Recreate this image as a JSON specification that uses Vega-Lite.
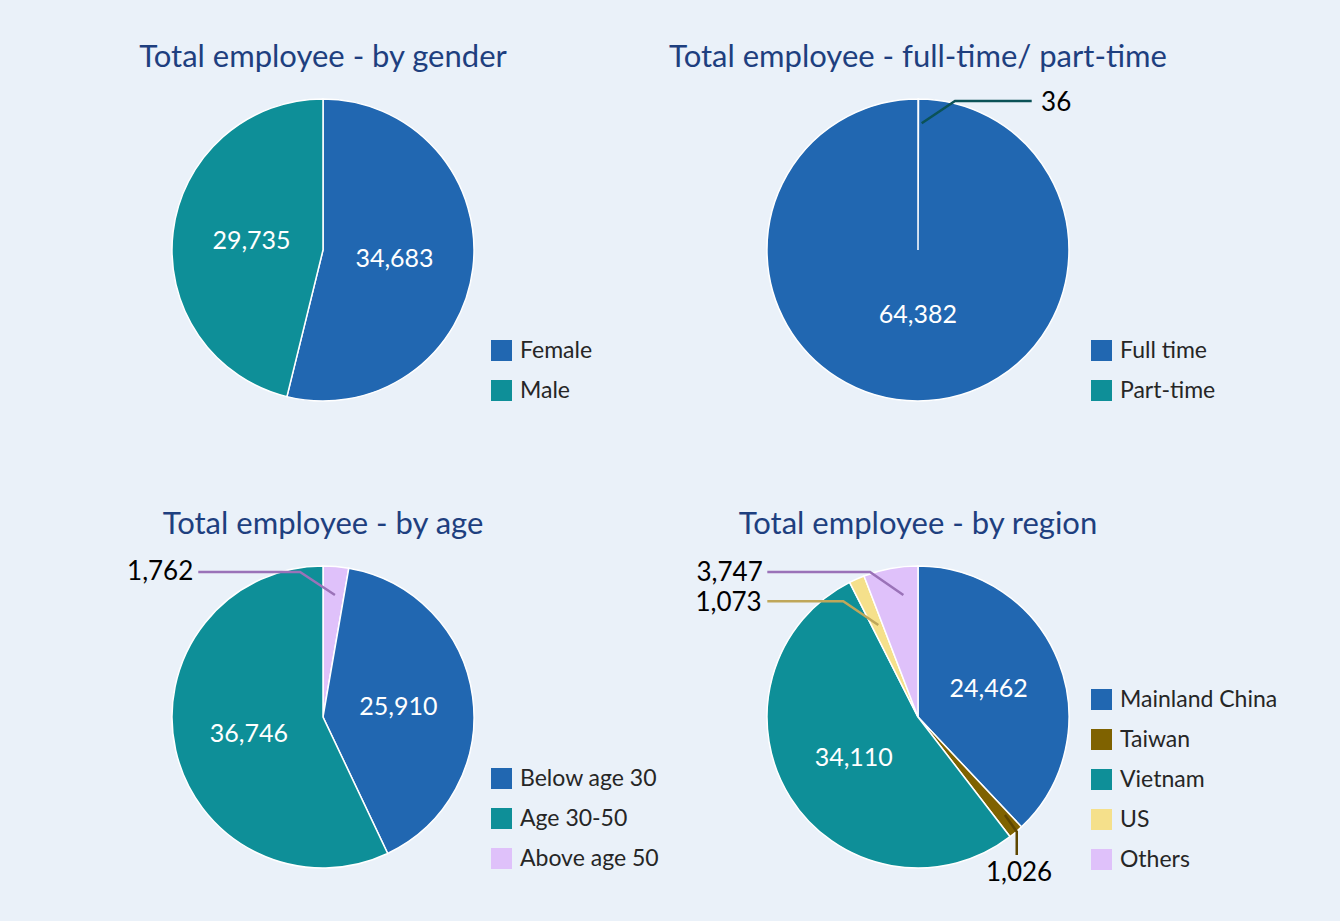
{
  "$schema": "https://vega.github.io/schema/vega-lite/v6.json",
  "background": "#eaf1f9",
  "padding": {"left": 93, "top": 42, "right": 62, "bottom": 26},
  "columns": 2,
  "spacing": {"row": 107, "column": 135},
  "bounds": "flush",
  "resolve": {"scale": {"color": "independent", "theta": "independent", "x": "independent", "y": "independent", "stroke": "independent"}},
  "config": {
    "view": {"stroke": null},
    "font": "Lato",
    "title": {"font": "Lato", "fontSize": 31, "fontWeight": "normal", "color": "#1e3f7f", "anchor": "middle", "frame": "group", "offset": -4},
    "legend": {"orient": "none", "symbolType": "square", "symbolSize": 441, "symbolStrokeWidth": 0, "labelFont": "Lato", "labelFontSize": 23, "labelColor": "#262626", "labelOffset": 7, "rowPadding": 16, "padding": 0, "title": null, "labelLimit": 300}
  },
  "concat": [
    {
      "title": "Total employee - by gender",
      "width": 460, "height": 360,
      "data": {"values": [
        {"cat": "Female", "value": 34683, "k": 1},
        {"cat": "Male", "value": 29735, "k": 2}
      ]},
      "layer": [
        {
          "mark": {"type": "arc", "outerRadius": 151, "stroke": "white", "strokeWidth": 1.5},
          "encoding": {
            "theta": {"field": "value", "type": "quantitative", "stack": true},
            "order": {"field": "k", "type": "quantitative"},
            "color": {"field": "cat", "type": "nominal", "scale": {"domain": ["Female", "Male"], "range": ["#2167b1", "#0e8f98"]}, "legend": {"legendX": 397, "legendY": 269}}
          }
        },
        {
          "mark": {"type": "text", "radius": 72, "fontSize": 25, "fill": "white", "baseline": "middle"},
          "encoding": {
            "theta": {"field": "value", "type": "quantitative", "stack": true},
            "order": {"field": "k", "type": "quantitative"},
            "detail": {"field": "cat", "type": "nominal"},
            "text": {"condition": {"test": "datum.value > 20000", "field": "value", "type": "quantitative", "format": ","}, "value": ""}
          }
        }
      ]
    },
    {
      "title": "Total employee - full-time/ part-time",
      "width": 460, "height": 360,
      "data": {"values": [
        {"cat": "Part-time", "value": 36, "k": 1},
        {"cat": "Full time", "value": 64382, "k": 2}
      ]},
      "layer": [
        {
          "mark": {"type": "arc", "outerRadius": 151, "stroke": "white", "strokeWidth": 1.5},
          "encoding": {
            "theta": {"field": "value", "type": "quantitative", "stack": true},
            "order": {"field": "k", "type": "quantitative"},
            "color": {"field": "cat", "type": "nominal", "scale": {"domain": ["Full time", "Part-time"], "range": ["#2167b1", "#0e8f98"]}, "legend": {"legendX": 402, "legendY": 269}}
          }
        },
        {
          "mark": {"type": "text", "radius": 65, "fontSize": 25, "fill": "white", "baseline": "middle"},
          "encoding": {
            "theta": {"field": "value", "type": "quantitative", "stack": true},
            "order": {"field": "k", "type": "quantitative"},
            "detail": {"field": "cat", "type": "nominal"},
            "text": {"condition": {"test": "datum.value > 20000", "field": "value", "type": "quantitative", "format": ","}, "value": ""}
          }
        },
        {
          "data": {"values": [
            {"g": "Part-time", "i": 1, "lx": 0.0245, "ly": 0.839},
            {"g": "Part-time", "i": 2, "lx": 0.245, "ly": 0.987},
            {"g": "Part-time", "i": 3, "lx": 0.753, "ly": 0.987}
          ]},
          "mark": {"type": "line", "stroke": "#0b5257", "strokeWidth": 2.5},
          "encoding": {
            "x": {"field": "lx", "type": "quantitative", "scale": {"domain": [-1.5232, 1.5232], "nice": false, "zero": false}, "axis": null},
            "y": {"field": "ly", "type": "quantitative", "scale": {"domain": [-1.1921, 1.1921], "nice": false, "zero": false}, "axis": null},
            "order": {"field": "i", "type": "quantitative"},
            "detail": {"field": "g", "type": "nominal"}
          }
        },
        {
          "data": {"values": [
            {"t": "36", "lx": 0.815, "ly": 0.971}
          ]},
          "mark": {"type": "text", "fontSize": 26, "fill": "black", "align": "left", "baseline": "middle"},
          "encoding": {
            "x": {"field": "lx", "type": "quantitative", "scale": {"domain": [-1.5232, 1.5232], "nice": false, "zero": false}, "axis": null},
            "y": {"field": "ly", "type": "quantitative", "scale": {"domain": [-1.1921, 1.1921], "nice": false, "zero": false}, "axis": null},
            "text": {"field": "t", "type": "nominal"}
          }
        }
      ]
    },
    {
      "title": "Total employee - by age",
      "width": 460, "height": 360,
      "data": {"values": [
        {"cat": "Above age 50", "value": 1762, "k": 1},
        {"cat": "Below age 30", "value": 25910, "k": 2},
        {"cat": "Age 30-50", "value": 36746, "k": 3}
      ]},
      "layer": [
        {
          "mark": {"type": "arc", "outerRadius": 151, "stroke": "white", "strokeWidth": 1.5},
          "encoding": {
            "theta": {"field": "value", "type": "quantitative", "stack": true},
            "order": {"field": "k", "type": "quantitative"},
            "color": {"field": "cat", "type": "nominal", "scale": {"domain": ["Below age 30", "Age 30-50", "Above age 50"], "range": ["#2167b1", "#0e8f98", "#dfc1fa"]}, "legend": {"legendX": 397, "legendY": 230}}
          }
        },
        {
          "mark": {"type": "text", "radius": 76, "fontSize": 25, "fill": "white", "baseline": "middle"},
          "encoding": {
            "theta": {"field": "value", "type": "quantitative", "stack": true},
            "order": {"field": "k", "type": "quantitative"},
            "detail": {"field": "cat", "type": "nominal"},
            "text": {"condition": {"test": "datum.value > 20000", "field": "value", "type": "quantitative", "format": ","}, "value": ""}
          }
        },
        {
          "data": {"values": [
            {"g": "Above age 50", "i": 1, "lx": 0.079, "ly": 0.808},
            {"g": "Above age 50", "i": 2, "lx": -0.152, "ly": 0.96},
            {"g": "Above age 50", "i": 3, "lx": -0.826, "ly": 0.96}
          ]},
          "mark": {"type": "line", "stroke": "#9a72b8", "strokeWidth": 2.5},
          "encoding": {
            "x": {"field": "lx", "type": "quantitative", "scale": {"domain": [-1.5232, 1.5232], "nice": false, "zero": false}, "axis": null},
            "y": {"field": "ly", "type": "quantitative", "scale": {"domain": [-1.1921, 1.1921], "nice": false, "zero": false}, "axis": null},
            "order": {"field": "i", "type": "quantitative"},
            "detail": {"field": "g", "type": "nominal"}
          }
        },
        {
          "data": {"values": [
            {"t": "1,762", "lx": -0.859, "ly": 0.957}
          ]},
          "mark": {"type": "text", "fontSize": 26, "fill": "black", "align": "right", "baseline": "middle"},
          "encoding": {
            "x": {"field": "lx", "type": "quantitative", "scale": {"domain": [-1.5232, 1.5232], "nice": false, "zero": false}, "axis": null},
            "y": {"field": "ly", "type": "quantitative", "scale": {"domain": [-1.1921, 1.1921], "nice": false, "zero": false}, "axis": null},
            "text": {"field": "t", "type": "nominal"}
          }
        }
      ]
    },
    {
      "title": "Total employee - by region",
      "width": 460, "height": 360,
      "data": {"values": [
        {"cat": "Mainland China", "value": 24462, "k": 1},
        {"cat": "Taiwan", "value": 1026, "k": 2},
        {"cat": "Vietnam", "value": 34110, "k": 3},
        {"cat": "US", "value": 1073, "k": 4},
        {"cat": "Others", "value": 3747, "k": 5}
      ]},
      "layer": [
        {
          "mark": {"type": "arc", "outerRadius": 151, "stroke": "white", "strokeWidth": 1.5},
          "encoding": {
            "theta": {"field": "value", "type": "quantitative", "stack": true},
            "order": {"field": "k", "type": "quantitative"},
            "color": {"field": "cat", "type": "nominal", "scale": {"domain": ["Mainland China", "Taiwan", "Vietnam", "US", "Others"], "range": ["#2167b1", "#7f6200", "#0e8f98", "#f5e08b", "#dfc1fa"]}, "legend": {"legendX": 402, "legendY": 151}}
          }
        },
        {
          "mark": {"type": "text", "radius": 76, "fontSize": 25, "fill": "white", "baseline": "middle"},
          "encoding": {
            "theta": {"field": "value", "type": "quantitative", "stack": true},
            "order": {"field": "k", "type": "quantitative"},
            "detail": {"field": "cat", "type": "nominal"},
            "text": {"condition": {"test": "datum.value > 20000", "field": "value", "type": "quantitative", "format": ","}, "value": ""}
          }
        },
        {
          "data": {"values": [
            {"g": "Others", "i": 1, "lx": -0.097, "ly": 0.808},
            {"g": "Others", "i": 2, "lx": -0.318, "ly": 0.96},
            {"g": "Others", "i": 3, "lx": -0.998, "ly": 0.96},
            {"g": "US", "i": 1, "lx": -0.263, "ly": 0.609},
            {"g": "US", "i": 2, "lx": -0.495, "ly": 0.766},
            {"g": "US", "i": 3, "lx": -0.998, "ly": 0.766},
            {"g": "Taiwan", "i": 1, "lx": 0.576, "ly": -0.649},
            {"g": "Taiwan", "i": 2, "lx": 0.654, "ly": -0.76},
            {"g": "Taiwan", "i": 3, "lx": 0.654, "ly": -0.914}
          ]},
          "mark": {"type": "line", "strokeWidth": 2.5},
          "encoding": {
            "x": {"field": "lx", "type": "quantitative", "scale": {"domain": [-1.5232, 1.5232], "nice": false, "zero": false}, "axis": null},
            "y": {"field": "ly", "type": "quantitative", "scale": {"domain": [-1.1921, 1.1921], "nice": false, "zero": false}, "axis": null},
            "order": {"field": "i", "type": "quantitative"},
            "detail": {"field": "g", "type": "nominal"},
            "stroke": {"field": "g", "type": "nominal", "scale": {"domain": ["Others", "US", "Taiwan"], "range": ["#9a72b8", "#bfa75a", "#5e4700"]}, "legend": null}
          }
        },
        {
          "data": {"values": [
            {"t": "3,747", "lx": -1.028, "ly": 0.951},
            {"t": "1,073", "lx": -1.035, "ly": 0.755}
          ]},
          "mark": {"type": "text", "fontSize": 26, "fill": "black", "align": "right", "baseline": "middle"},
          "encoding": {
            "x": {"field": "lx", "type": "quantitative", "scale": {"domain": [-1.5232, 1.5232], "nice": false, "zero": false}, "axis": null},
            "y": {"field": "ly", "type": "quantitative", "scale": {"domain": [-1.1921, 1.1921], "nice": false, "zero": false}, "axis": null},
            "text": {"field": "t", "type": "nominal"}
          }
        },
        {
          "data": {"values": [
            {"t": "1,026", "lx": 0.669, "ly": -1.03}
          ]},
          "mark": {"type": "text", "fontSize": 26, "fill": "black", "align": "center", "baseline": "middle"},
          "encoding": {
            "x": {"field": "lx", "type": "quantitative", "scale": {"domain": [-1.5232, 1.5232], "nice": false, "zero": false}, "axis": null},
            "y": {"field": "ly", "type": "quantitative", "scale": {"domain": [-1.1921, 1.1921], "nice": false, "zero": false}, "axis": null},
            "text": {"field": "t", "type": "nominal"}
          }
        }
      ]
    }
  ]
}
